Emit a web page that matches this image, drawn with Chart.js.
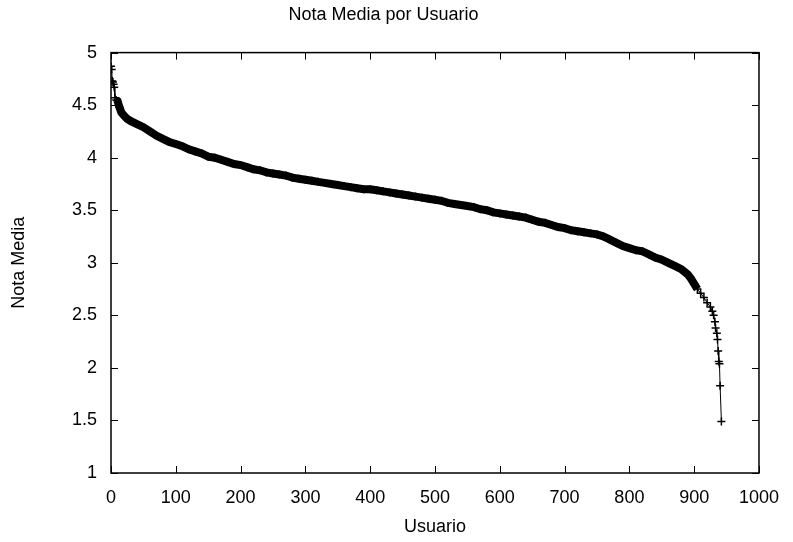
<!DOCTYPE html>
<html>
<head>
<meta charset="utf-8">
<script src="https://cdn.jsdelivr.net/npm/chart.js@4"></script>
<style>
  html, body { margin: 0; padding: 0; background: #fff; }
  #wrap { width: 793px; height: 542px; }
</style>
</head>
<body>
<div id="wrap"><canvas id="chart" width="793" height="542"></canvas></div>
<script>
'use strict'

// usuarios ordenados por nota media
const usuarios = [0, 1, 2, 3, 4, 5, 6, 8, 10, 13, 16, 20, 25, 30, 40, 50, 60, 70, 80, 90,
  100, 110, 120, 130, 140, 150, 160, 170, 180, 190, 200, 210, 220, 230, 240, 250, 260, 270, 280, 290,
  300, 310, 320, 330, 340, 350, 360, 370, 380, 390, 400, 410, 420, 430, 440, 450, 460, 470, 480, 490,
  500, 510, 520, 530, 540, 550, 560, 570, 580, 590, 600, 610, 620, 630, 640, 650, 660, 670, 680, 690,
  700, 710, 720, 730, 740, 750, 760, 770, 780, 790, 800, 810, 820, 830, 840, 850, 860, 870, 880, 890,
  895, 900, 905, 910, 915, 920, 925, 928, 930, 932, 933, 935, 936, 937, 938, 939, 940, 942]
const notas = [4.87, 4.84, 4.73, 4.72, 4.70, 4.67, 4.57, 4.55, 4.54, 4.48, 4.43, 4.40, 4.37, 4.35, 4.32, 4.29, 4.25, 4.21, 4.18, 4.15,
  4.13, 4.11, 4.08, 4.06, 4.04, 4.01, 4.00, 3.98, 3.96, 3.94, 3.93, 3.91, 3.89, 3.88, 3.86, 3.85, 3.84, 3.83, 3.81, 3.80,
  3.79, 3.78, 3.77, 3.76, 3.75, 3.74, 3.73, 3.72, 3.71, 3.70, 3.70, 3.69, 3.68, 3.67, 3.66, 3.65, 3.64, 3.63, 3.62, 3.61,
  3.60, 3.59, 3.57, 3.56, 3.55, 3.54, 3.53, 3.51, 3.50, 3.48, 3.47, 3.46, 3.45, 3.44, 3.43, 3.41, 3.39, 3.38, 3.36, 3.34,
  3.33, 3.31, 3.30, 3.29, 3.28, 3.27, 3.25, 3.22, 3.19, 3.16, 3.14, 3.12, 3.11, 3.08, 3.05, 3.03, 3.00, 2.97, 2.94, 2.89,
  2.85, 2.80, 2.75, 2.71, 2.67, 2.62, 2.58, 2.54, 2.50, 2.44, 2.38, 2.33, 2.27, 2.16, 2.06, 2.04, 1.83, 1.49]

const xTicks = [0, 100, 200, 300, 400, 500, 600, 700, 800, 900, 1000]
const yTicks = [1, 1.5, 2, 2.5, 3, 3.5, 4, 4.5, 5]

const FONT = '"Liberation Sans", Arial, sans-serif'

// ticks hacia dentro en los cuatro lados, como gnuplot
const marcoPlugin = {
  id: 'marco',
  afterDatasetsDraw(chart) {
    const ctx = chart.ctx
    const a = chart.chartArea
    const xs = chart.scales.x, ys = chart.scales.y
    const len = 7
    ctx.save()
    ctx.strokeStyle = '#000'
    ctx.lineWidth = 1
    ctx.beginPath()
    xTicks.forEach(v => {
      const px = Math.round(xs.getPixelForValue(v)) + 0.5
      ctx.moveTo(px, a.bottom); ctx.lineTo(px, a.bottom - len)
      ctx.moveTo(px, a.top); ctx.lineTo(px, a.top + len)
    })
    yTicks.forEach(v => {
      const py = Math.round(ys.getPixelForValue(v)) + 0.5
      ctx.moveTo(a.left, py); ctx.lineTo(a.left + len, py)
      ctx.moveTo(a.right, py); ctx.lineTo(a.right - len, py)
    })
    ctx.stroke()
    ctx.lineWidth = 1.5
    ctx.strokeRect(a.left, a.top, a.right - a.left, a.bottom - a.top)
    ctx.restore()
  }
}

const puntos = usuarios.map((u, i) => ({ x: u, y: notas[i] }))

// donde los usuarios estan muy juntos, las cruces forman una banda gruesa
const grosor = c => (c.p0.parsed.x >= 8 && c.p1.parsed.x <= 905) ? 8 : 1

new Chart(document.querySelector('#chart').getContext('2d'), {
  type: 'scatter',
  data: {
    datasets: [{
      label: 'Nota Media',
      data: puntos,
      showLine: true,
      borderColor: '#000',
      backgroundColor: '#000',
      borderWidth: 1,
      segment: { borderWidth: grosor },
      pointStyle: 'cross',
      pointRadius: 4,
      pointBorderWidth: 1.5,
      pointBorderColor: '#000'
    }]
  },
  plugins: [marcoPlugin],
  options: {
    responsive: false,
    animation: false,
    layout: { padding: { left: 4, right: 30, top: 0, bottom: 0 } },
    plugins: {
      legend: { display: false },
      tooltip: { enabled: false },
      title: {
        display: true,
        text: 'Nota Media por Usuario',
        color: '#000',
        font: { family: FONT, size: 18, weight: 'normal' },
        padding: { top: 4, bottom: 27 }
      }
    },
    scales: {
      x: {
        type: 'linear',
        min: 0, max: 1000,
        afterBuildTicks: s => { s.ticks = xTicks.map(v => ({ value: v })) },
        afterFit: s => { s.height = 69 },
        ticks: { color: '#000', font: { family: FONT, size: 18 }, padding: 14, maxRotation: 0, callback: v => String(v) },
        grid: { drawOnChartArea: false, drawTicks: false },
        border: { display: false },
        title: { display: true, text: 'Usuario', color: '#000', font: { family: FONT, size: 18 }, padding: { top: 8 } }
      },
      y: {
        type: 'linear',
        min: 1, max: 5,
        afterBuildTicks: s => { s.ticks = yTicks.map(v => ({ value: v })) },
        afterFit: s => { s.width = 107 },
        ticks: { color: '#000', font: { family: FONT, size: 18 }, padding: 14, callback: v => String(v) },
        grid: { drawOnChartArea: false, drawTicks: false },
        border: { display: false },
        title: { display: true, text: 'Nota Media', color: '#000', font: { family: FONT, size: 18 }, padding: { bottom: 0 } }
      }
    }
  }
})
</script>
</body>
</html>
